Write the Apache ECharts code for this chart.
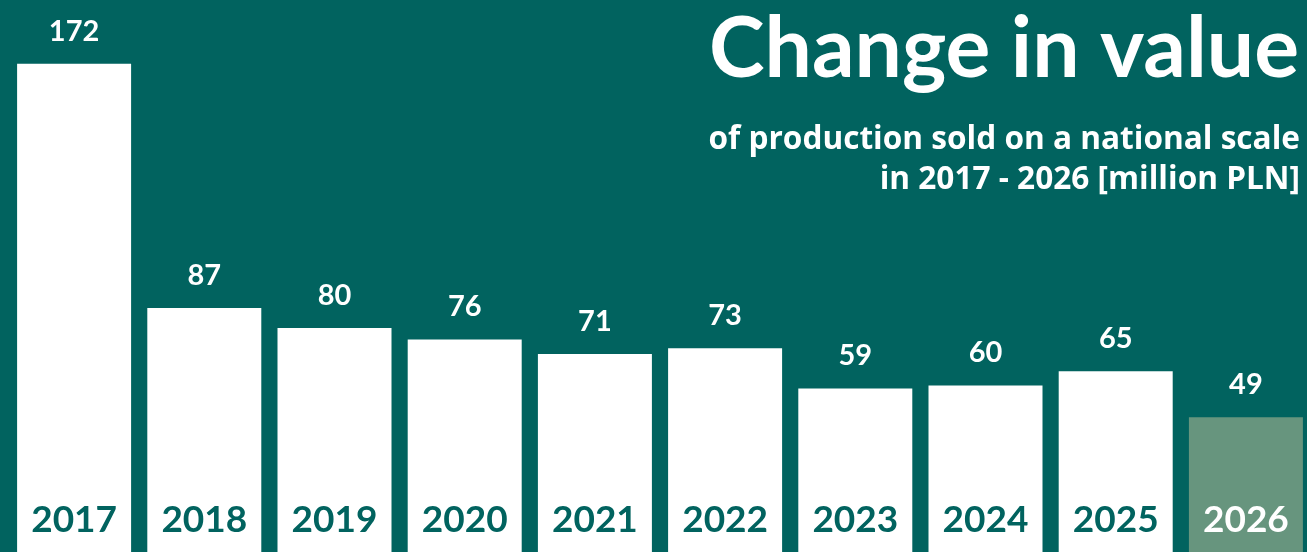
<!DOCTYPE html>
<html>
<head>
<meta charset="utf-8">
<style>
  html, body { margin: 0; padding: 0; background: #01635f; }
  #chart { width: 1307px; height: 552px; }
</style>
<script src="https://cdn.jsdelivr.net/npm/echarts@6/dist/echarts.min.js"></script>
</head>
<body>
<div id="chart"></div>
<script>
// Value of production sold on a national scale, million PLN
const years = ['2017', '2018', '2019', '2020', '2021', '2022', '2023', '2024', '2025', '2026'];
const values = [172, 87, 80, 76, 71, 73, 59, 60, 65, 49];
const forecastYear = '2026';

const BG = '#01635f';
const BAR = '#ffffff';
const FORECAST = '#67957e';
const FONT = 'Lato';
const SUB_FONT = '"Open Sans"';

const chart = echarts.init(document.getElementById('chart'), null, { renderer: 'canvas' });

chart.setOption({
  backgroundColor: BG,
  animation: false,
  graphic: [
    {
      type: 'text',
      right: 8,
      top: 8,
      z: 20,
      style: { text: 'Change in value', fill: '#ffffff', font: 'bold 84px ' + FONT }
    },
    {
      type: 'text',
      right: 7,
      top: 124,
      z: 20,
      style: { text: 'of production sold on a national scale', fill: '#ffffff', font: 'bold 31.6px ' + SUB_FONT }
    },
    {
      type: 'text',
      right: 7,
      top: 164,
      z: 20,
      style: { text: 'in 2017 - 2026 [million PLN]', fill: '#ffffff', font: 'bold 31.6px ' + SUB_FONT }
    }
  ],
  grid: { left: 9, width: 1302, top: 12, height: 546, outerBoundsMode: 'none', containLabel: false },
  xAxis: {
    type: 'category',
    data: years,
    z: 10,
    axisLine: { show: false },
    axisTick: { show: false },
    axisLabel: {
      inside: true,
      margin: 19,
      fontFamily: FONT,
      fontWeight: 'bold',
      fontSize: 37,
      color: (v) => (v === forecastYear ? '#ffffff' : BG)
    }
  },
  yAxis: {
    type: 'value',
    min: 0,
    max: 190,
    show: false,
    splitLine: { show: false }
  },
  series: [{
    type: 'bar',
    data: values.map((v, i) => ({
      value: v,
      itemStyle: { color: years[i] === forecastYear ? FORECAST : BAR }
    })),
    barWidth: 114,
    label: {
      show: true,
      position: 'top',
      distance: 18,
      color: '#ffffff',
      fontFamily: FONT,
      fontWeight: 'bold',
      fontSize: 29
    }
  }]
});
</script>
</body>
</html>
